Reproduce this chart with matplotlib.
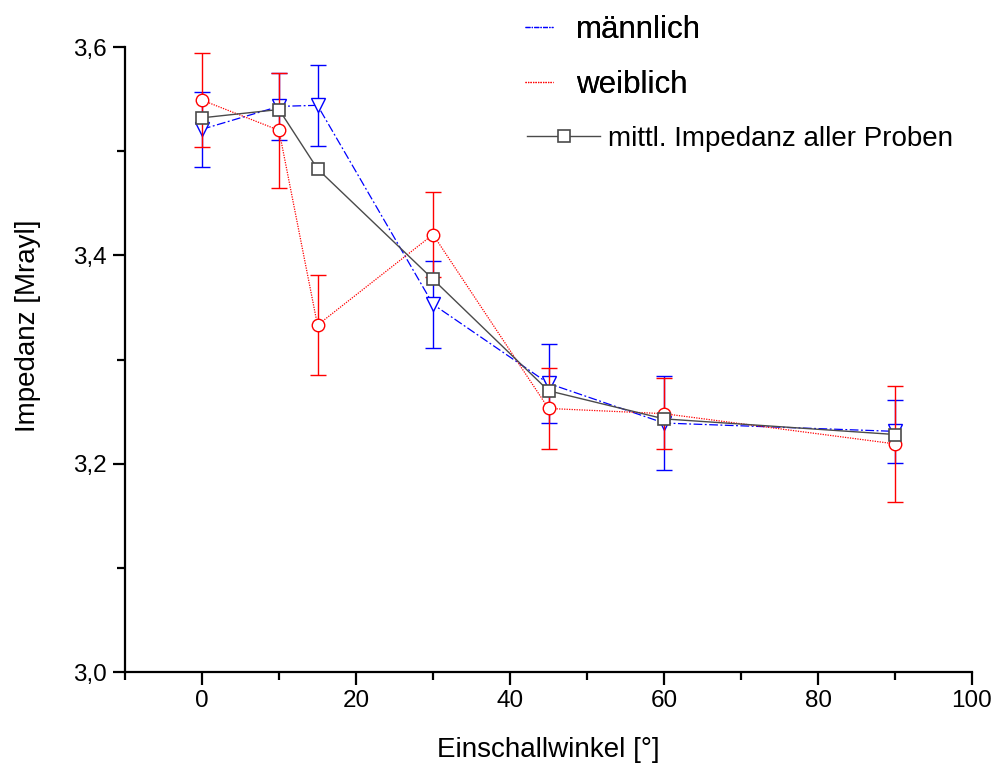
import matplotlib
matplotlib.use("Agg")
import matplotlib.pyplot as plt
from matplotlib.ticker import MultipleLocator, FuncFormatter
from matplotlib.lines import Line2D

plt.rcParams['font.family'] = ['Liberation Sans', 'DejaVu Sans']

# data
angles = [0, 10, 15, 30, 45, 60, 90]
male = [3.521, 3.543, 3.544, 3.353, 3.277, 3.239, 3.231]
male_err = [0.036, 0.032, 0.039, 0.042, 0.038, 0.045, 0.030]
female = [3.549, 3.520, 3.333, 3.420, 3.253, 3.248, 3.219]
female_err = [0.045, 0.055, 0.048, 0.041, 0.039, 0.034, 0.056]
mean_all = [3.532, 3.540, 3.483, 3.377, 3.270, 3.243, 3.228]

labels = ["männlich", "weiblich", "mittl. Impedanz aller Proben"]
xlabel = "Einschallwinkel [°]"
ylabel = "Impedanz [Mrayl]"

fig = plt.figure(figsize=(9.94, 7.67), dpi=100)
ax = fig.add_axes([125/994, 95/767, 847/994, 625/767])

blue = "#0000ff"
red = "#ff0000"
grey = "#4a4a4a"

ax.errorbar(angles, male, yerr=male_err, color=blue, lw=0.9,
            dashes=(7, 2, 1.5, 2), marker='v', ms=10, mfc='white', mec=blue,
            mew=1.0, ecolor=blue, elinewidth=1.0, capsize=5.5, capthick=1.0,
            zorder=3)
ax.errorbar(angles, female, yerr=female_err, color=red, lw=0.9,
            dashes=(1, 1), marker='o', ms=9, mfc='white', mec=red,
            mew=1.0, ecolor=red, elinewidth=1.0, capsize=5.5, capthick=1.0,
            zorder=4)
ax.plot(angles, mean_all, color=grey, lw=1.0, marker='s', ms=8.4,
        mfc='white', mec=grey, mew=1.2, zorder=5)

ax.set_xlim(-10, 100)
ax.set_ylim(3.0, 3.6)
ax.xaxis.set_major_locator(MultipleLocator(20))
ax.xaxis.set_minor_locator(MultipleLocator(10))
ax.yaxis.set_major_locator(MultipleLocator(0.2))
ax.yaxis.set_minor_locator(MultipleLocator(0.1))
ax.yaxis.set_major_formatter(FuncFormatter(lambda v, p: f"{v:.1f}".replace('.', ',')))
ax.xaxis.set_major_formatter(FuncFormatter(lambda v, p: f"{v:.0f}"))

for s in ['top', 'right']:
    ax.spines[s].set_visible(False)
for s in ['left', 'bottom']:
    ax.spines[s].set_linewidth(1.6)

ax.tick_params(which='major', length=9, width=1.6, direction='out', labelsize=17.5, pad=4)
ax.tick_params(which='minor', length=5.5, width=1.6, direction='out')

ax.set_xlabel(xlabel, fontsize=20, labelpad=18)
ax.set_ylabel(ylabel, fontsize=20)
ax.yaxis.set_label_coords(-84/847, (672 - 326) / 625)

# legends
h1 = Line2D([], [], color=blue, lw=0.9, dashes=(4, 1, 1, 1))
h2 = Line2D([], [], color=red, lw=0.9, dashes=(1, 1))
h3 = Line2D([], [], color=grey, lw=1.0, marker='s', ms=8.4, mfc='white', mec=grey, mew=1.2)

leg1 = fig.legend([h1, h2], labels[:2], loc='upper left',
                  bbox_to_anchor=(525/994, 1 - 15/767), bbox_transform=fig.transFigure,
                  frameon=False, fontsize=22.5, handlelength=0.9, handletextpad=0.74,
                  labelspacing=0.80, borderpad=0, borderaxespad=0)
fig.add_artist(leg1)
leg2 = fig.legend([h3], labels[2:], loc='upper left',
                  bbox_to_anchor=(527/994, 1 - 126/767), bbox_transform=fig.transFigure,
                  frameon=False, fontsize=20, handlelength=2.63, handletextpad=0.29,
                  borderpad=0, borderaxespad=0)

fig.savefig("out.png", dpi=100)
